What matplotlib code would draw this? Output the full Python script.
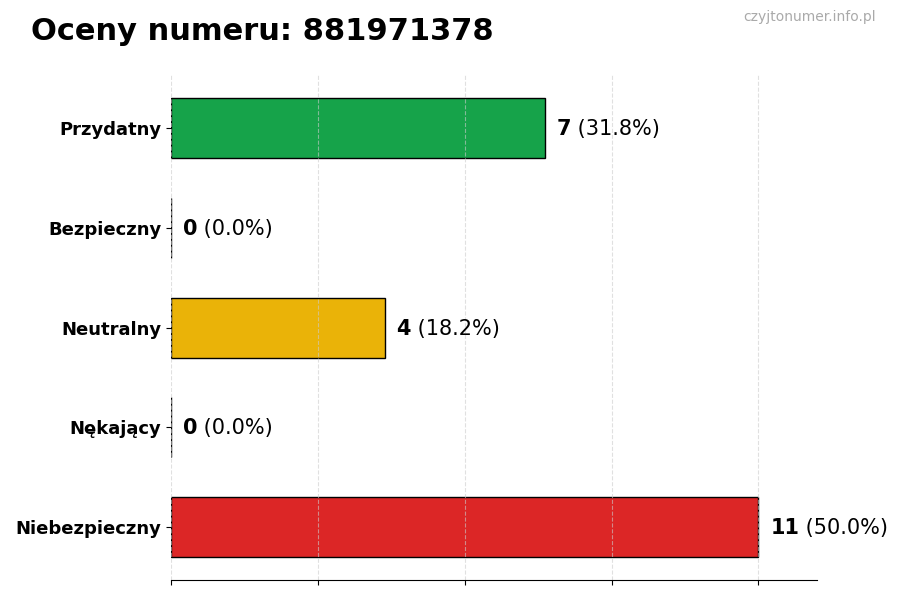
import matplotlib.pyplot as plt

categories = ["Niebezpieczny", "Nękający", "Neutralny", "Bezpieczny", "Przydatny"]
counts = [11, 0, 4, 0, 7]
colors = ["#dc2626", "#f97316", "#eab308", "#3b82f6", "#16a34a"]
phone = "881971378"

total = sum(counts)
max_count = max(counts)

fig = plt.figure(figsize=(9, 6), dpi=100)
ax = fig.add_axes([0.19, 0.033, 0.718, 0.842])

ax.barh(categories, counts, height=0.6, color=colors, edgecolor="black", linewidth=1)

ax.set_xlim(0, max_count * 1.1)
ax.set_xticks([max_count * i / 4 for i in range(5)])
ax.set_xticklabels([])
ax.grid(axis="x", linestyle="--", color="#cccccc", alpha=0.6)

for label in ax.get_yticklabels():
    label.set_fontweight("bold")
    label.set_fontsize(13)

for spine in ["top", "right", "left"]:
    ax.spines[spine].set_visible(False)

offset = max_count * 0.02
for i, value in enumerate(counts):
    pct = value / total * 100
    t = ax.text(value + offset, i - 0.01, f"{value}", va="center", ha="left",
                fontsize=15, fontweight="bold")
    fig.canvas.draw()
    bb = t.get_window_extent().transformed(ax.transData.inverted())
    ax.text(bb.x1, i - 0.01, f" ({pct:.1f}%)", va="center", ha="left", fontsize=15)

fig.text(0.034, 0.947, f"Oceny numeru: {phone}", fontsize=22, fontweight="bold",
         va="center", ha="left")
fig.text(0.973, 0.971, "czyjtonumer.info.pl", fontsize=10, color="#aaaaaa",
         va="center", ha="right")

fig.savefig("out.png", dpi=100)
